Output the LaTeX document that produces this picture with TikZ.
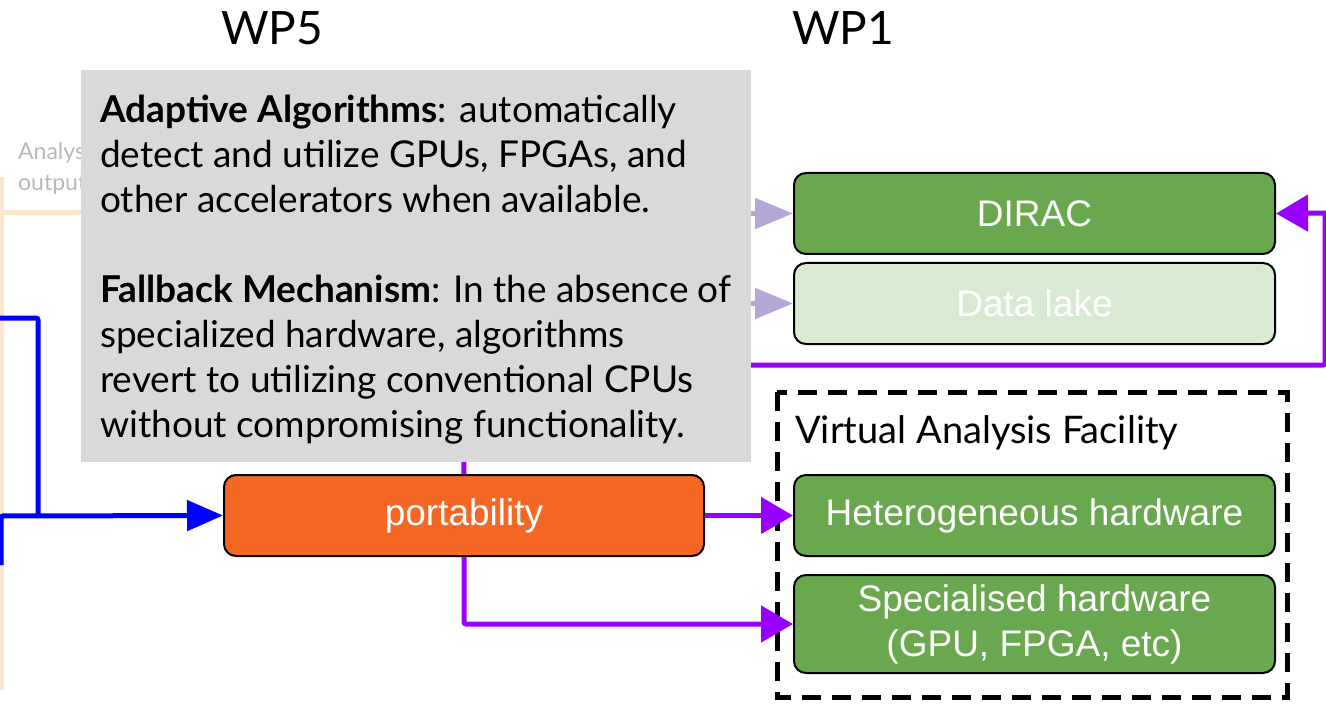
\documentclass[tikz,border=0pt]{standalone}
\usepackage{fontspec}
\setmainfont{Lato}
\newfontfamily\arialfont{Liberation Sans}
\usetikzlibrary{arrows.meta,calc}
\definecolor{vgreen}{HTML}{6AA84F}
\definecolor{lgreen}{HTML}{D9EAD3}
\definecolor{porange}{HTML}{F46725}
\definecolor{vpurple}{HTML}{9900FF}
\definecolor{lpurple}{HTML}{B4A7D6}
\definecolor{peach}{HTML}{FCE5CD}
\definecolor{infogrey}{HTML}{D9D9D9}
\tikzset{
  box/.style={draw=black, line width=2pt, rounded corners=12pt, minimum width=481pt,
    text=white, font=\arialfont\fontsize{37}{45}\selectfont, align=center, inner sep=0pt},
  greenbox/.style={box, fill=vgreen},
  palebox/.style={box, fill=lgreen},
  link/.style={vpurple, line width=5pt, rounded corners=2pt},
  linkarrow/.style={link, -{Triangle[length=32pt,width=36pt]}},
  fadedarrow/.style={lpurple, line width=5pt, -{Triangle[length=38pt,width=30pt]}},
  bluelink/.style={blue, line width=5pt, rounded corners=2pt},
  wplabel/.style={font=\fontsize{46}{50}\selectfont, anchor=base},
}
\begin{document}
\begin{tikzpicture}[x=1pt,y=-1pt]
\useasboundingbox (0,0) rectangle (1326,714);

% faded analysis output feed on the left
\node[anchor=base west, text=black!28, font=\fontsize{23}{31}\selectfont, align=left, inner sep=0pt]
  (analysis) at (18,191) {Analysis\\output};
\draw[peach, line width=5pt, rounded corners=2pt] (1,177) -- (1,690);
\draw[peach, line width=5pt] (1,213) -- (90,213);

% headers
\node[wplabel] (wp5) at (272,45) {WP5};
\node[wplabel] (wp1) at (843,45) {WP1};

% nodes
\node[greenbox, minimum height=81pt] (dirac) at (1034.5,213.5) {DIRAC};
\node[palebox, minimum height=81pt] (lake) at (1034.5,303.5) {Data lake};
\node[greenbox, minimum height=81pt] (hetero) at (1034.5,515.5) {Heterogeneous hardware};
\node[greenbox, minimum height=98pt] (special) at (1034.5,624) {Specialised hardware\\(GPU, FPGA, etc)};
\node[box, fill=porange, minimum width=480pt, minimum height=81pt] (port) at (464,515.5) {portability};

% virtual analysis facility frame
\draw[black, line width=5pt, dash pattern=on 19pt off 11pt] (777,392) rectangle (1287,697);
\node[anchor=base west, inner sep=0pt, font=\fontsize{38}{44}\selectfont] (vaf) at (795,443) {Virtual Analysis Facility};

% blue inputs
\coordinate (bin1) at (0,318);
\coordinate (bin2) at (1,565);
\draw[bluelink] (bin1) -- (38,318) -- (38,516);
\draw[bluelink, -{Triangle[length=36pt,width=30pt]}] (bin2) -- (1,516) -- (port.west);

% purple links
\draw[linkarrow] (port.east) -- (hetero.west);
\draw[linkarrow] (port.south) |- (special.west);
\coordinate (loopr) at (1325,365);
\draw[link] (port.north) -- (463,365) -- (loopr) -- (1325,213);
\draw[linkarrow] (1327,213) -- (dirac.east);

% info panel
\node[fill=infogrey, anchor=north west, minimum width=670pt, minimum height=392pt, inner sep=0pt]
  (info) at (81,70) {};
\node[anchor=north west, inner sep=0pt, align=left, font=\fontsize{37}{45}\selectfont]
  (infotext) at (100,95) {\textbf{Adaptive Algorithms}: automatically\\
detect and utilize GPUs, FPGAs, and\\
other accelerators when available.\\[45pt]
\textbf{Fallback Mechanism}: In the absence of\\
specialized hardware, algorithms\\
revert to utilizing conventional CPUs\\
without compromising functionality.};

% faded links from the panel
\draw[fadedarrow] (info.east |- dirac.west) -- (dirac.west);
\draw[fadedarrow] (info.east |- lake.west) -- (lake.west);
\end{tikzpicture}
\end{document}
